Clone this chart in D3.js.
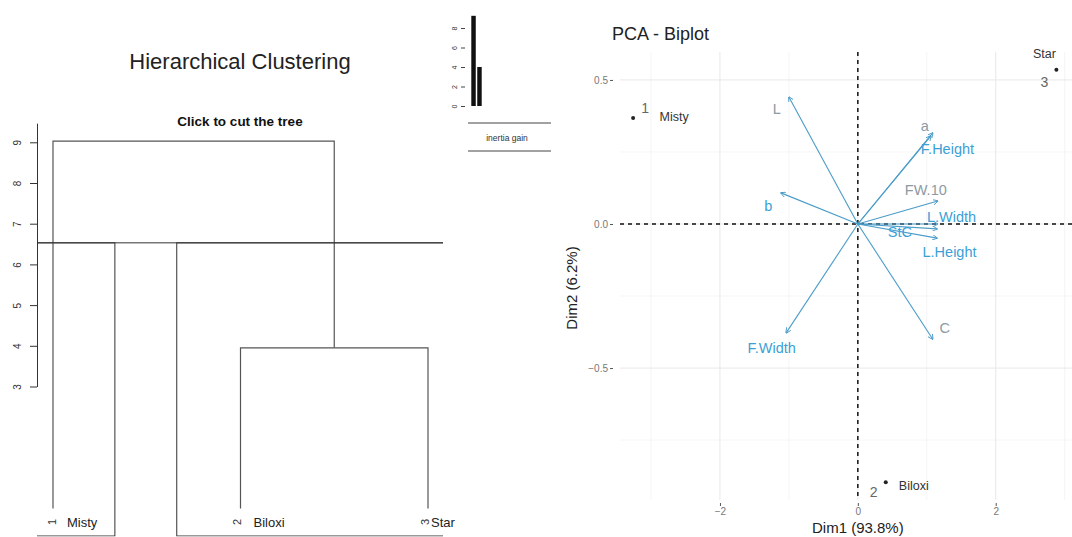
<!DOCTYPE html>
<html><head><meta charset="utf-8">
<script src="https://cdn.jsdelivr.net/npm/d3@7"></script>
<style>body{margin:0;background:#fff}svg{display:block;font-family:"Liberation Sans",Arial,sans-serif}</style>
</head><body><svg id="c" width="1072" height="537"></svg>
<script>
// ---------- data ----------
const leafNames = ["Misty", "Biloxi", "Star"];
const leafIds = ["1", "2", "3"];
const leafHeight = 0;
const mergeLeft = [2, 1];      // leaf index, or negative = earlier merge node
const mergeRight = [3, -1];
const mergeHeights = [3.95, 9.03];
const cutHeight = 6.53;
const clusterFrom = [0.66, 1.66];
const clusterTo = [1.33, 3.33];
const treeTicks = [3, 4, 5, 6, 7, 8, 9];

const gainValues = [9.25, 4.0];
const gainTicks = [0, 2, 4, 6, 8];

const indNames = ["Misty", "Biloxi", "Star"];
const indIds = ["1", "2", "3"];
const indX = [-3.26, 0.405, 2.88];
const indY = [0.368, -0.896, 0.535];

const varNames = ["L", "a", "F.Height", "FW.10", "L.Width", "StC", "L.Height", "b", "C", "F.Width"];
const varX = [-1.0, 1.087, 1.06, 1.16, 1.16, 1.15, 1.15, -1.116, 1.087, -1.04];
const varY = [0.441, 0.316, 0.306, 0.08, 0.0, -0.017, -0.049, 0.108, -0.40, -0.378];
const varLabelX = [-1.174, 0.971, 1.30, 0.986, 1.36, 0.61, 1.33, -1.30, 1.26, -1.25];
const varLabelY = [0.40, 0.342, 0.262, 0.12, 0.024, -0.028, -0.097, 0.064, -0.361, -0.431];
const varGrey = ["L", "a", "FW.10", "C"];

const xTicks = [-2, 0, 2];
const xMinor = [-3, -1, 1, 3];
const yTicks = [-0.5, 0, 0.5];
const yMinor = [-0.75, -0.25, 0.25];

// ---------- drawing ----------
const svg = d3.select("#c");

// ===== Left: dendrogram =====
const L = svg.append("g");
const ty = d3.scaleLinear().domain([0, 9]).range([508.6, 142.3]);
const tx = d3.scaleLinear().domain([1, 3]).range([53, 428]);
L.append("text").attr("x", 240).attr("y", 69).attr("text-anchor", "middle")
  .attr("font-size", 22).attr("fill", "#222").text("Hierarchical Clustering");
L.append("text").attr("x", 240).attr("y", 126).attr("text-anchor", "middle")
  .attr("font-size", 13.5).attr("font-weight", "bold").attr("fill", "#111").text("Click to cut the tree");

// axis
const axScale = d3.scaleLinear().domain([3, 9.47]).range([ty(3), ty(9.47)]);
const ax = L.append("g").attr("transform", "translate(37,0)")
  .call(d3.axisLeft(axScale).tickValues(treeTicks).tickSize(7).tickSizeOuter(0).tickFormat(d3.format("d")));
ax.select(".domain").attr("stroke", "#333");
ax.selectAll(".tick line").attr("stroke", "#333");
ax.selectAll(".tick text").attr("font-size", 10).attr("fill", "#333")
  .attr("transform", "rotate(-90)").attr("x", 0).attr("y", -20).attr("dy", "0.35em").attr("text-anchor", "middle");

// tree
const nodePos = [];
function posOf(ref) {
  if (ref > 0) return { x: tx(ref), h: leafHeight };
  return nodePos[-ref - 1];
}
mergeHeights.forEach((h, i) => {
  const a = posOf(mergeLeft[i]), b = posOf(mergeRight[i]);
  const path = d3.path();
  path.moveTo(a.x, ty(a.h)); path.lineTo(a.x, ty(h)); path.lineTo(b.x, ty(h)); path.lineTo(b.x, ty(b.h));
  L.append("path").attr("d", path.toString()).attr("fill", "none").attr("stroke", "#555").attr("stroke-width", 1.2);
  nodePos.push({ x: (a.x + b.x) / 2, h: h });
});

// cut line + cluster rectangles (clipped to plot region)
svg.append("clipPath").attr("id", "treeclip").append("rect").attr("x", 37).attr("y", 0).attr("width", 406).attr("height", 536.5);
const cg = L.append("g").attr("clip-path", "url(#treeclip)");
const pxPerIdx = tx(2) - tx(1);
clusterFrom.forEach((f, i) => {
  const x0 = tx(1) + (f - 1) * pxPerIdx, x1 = tx(1) + (clusterTo[i] - 1) * pxPerIdx;
  cg.append("rect").attr("x", x0).attr("y", ty(cutHeight)).attr("width", x1 - x0).attr("height", 536 - ty(cutHeight))
    .attr("fill", "none").attr("stroke", "#333").attr("stroke-width", 1);
});
cg.append("line").attr("x1", 0).attr("x2", 1072).attr("y1", ty(cutHeight)).attr("y2", ty(cutHeight))
  .attr("stroke", "#333").attr("stroke-width", 1);

// leaf labels
const leafNumOff = [-1, -3, -3];
const leafNameOff = [14, 13, 3];
leafNames.forEach((n, i) => {
  const x = tx(i + 1);
  L.append("text").attr("transform", `translate(${x + leafNumOff[i]},522) rotate(-90)`).attr("text-anchor", "middle")
    .attr("dy", "0.35em").attr("font-size", 11).attr("fill", "#333").text(leafIds[i]);
  L.append("text").attr("x", x + leafNameOff[i]).attr("y", 527).attr("font-size", 13).attr("fill", "#222").text(n);
});

// inset: inertia gain
const gy = d3.scaleLinear().domain([0, 8]).range([106, 28]);
const gx = d3.scaleBand().domain(d3.range(gainValues.length)).range([471, 482]).paddingInner(0.25).paddingOuter(0.05);
L.selectAll(".gbar").data(gainValues).enter().append("rect")
  .attr("x", (d, i) => gx(i)).attr("width", gx.bandwidth())
  .attr("y", d => gy(d)).attr("height", d => gy(0) - gy(d)).attr("fill", "#111");
const gax = L.append("g").attr("transform", "translate(465,0)")
  .call(d3.axisLeft(gy).tickValues(gainTicks).tickSize(4).tickSizeOuter(0));
gax.select(".domain").remove();
gax.selectAll(".tick line").attr("stroke", "#444");
gax.selectAll(".tick text").attr("font-size", 7).attr("fill", "#333").attr("transform", "rotate(-90)")
  .attr("x", 0).attr("y", -10).attr("dy", "0.35em").attr("text-anchor", "middle");
L.append("line").attr("x1", 468).attr("x2", 551).attr("y1", 123).attr("y2", 123).attr("stroke", "#444");
L.append("line").attr("x1", 468).attr("x2", 551).attr("y1", 151).attr("y2", 151).attr("stroke", "#444");
L.append("text").attr("x", 507).attr("y", 141).attr("text-anchor", "middle").attr("font-size", 8.5).attr("fill", "#333").text("inertia gain");

// ===== Right: PCA biplot =====
const R = svg.append("g");
const px = d3.scaleLinear().domain([-3.45, 3.15]).range([620, 1075]);
const py = d3.scaleLinear().domain([-0.958, 0.597]).range([500, 52]);
R.append("text").attr("x", 612).attr("y", 40).attr("font-size", 18).attr("fill", "#222").text("PCA - Biplot");

R.selectAll(".gxm").data(xMinor).enter().append("line").attr("x1", d => px(d)).attr("x2", d => px(d))
  .attr("y1", 52).attr("y2", 500).attr("stroke", "#f3f3f3").attr("stroke-width", 0.8);
R.selectAll(".gym").data(yMinor).enter().append("line").attr("y1", d => py(d)).attr("y2", d => py(d))
  .attr("x1", 620).attr("x2", 1075).attr("stroke", "#f3f3f3").attr("stroke-width", 0.8);
R.selectAll(".gx").data(xTicks).enter().append("line").attr("x1", d => px(d)).attr("x2", d => px(d))
  .attr("y1", 52).attr("y2", 500).attr("stroke", "#e8e8e8").attr("stroke-width", 1);
R.selectAll(".gy").data(yTicks).enter().append("line").attr("y1", d => py(d)).attr("y2", d => py(d))
  .attr("x1", 620).attr("x2", 1075).attr("stroke", "#e8e8e8").attr("stroke-width", 1);

// axes
const xa = R.append("g").attr("transform", "translate(0,503)")
  .call(d3.axisBottom(px).tickValues(xTicks).tickSize(3).tickFormat(d3.format("d")));
xa.select(".domain").remove();
xa.selectAll(".tick line").attr("stroke", "#555");
xa.selectAll(".tick text").attr("font-size", 10).attr("fill", "#777").attr("y", 5);
const ya = R.append("g").attr("transform", "translate(613,0)")
  .call(d3.axisLeft(py).tickValues(yTicks).tickSize(3).tickFormat(d3.format(".1f")));
ya.select(".domain").remove();
ya.selectAll(".tick line").attr("stroke", "#555");
ya.selectAll(".tick text").attr("font-size", 10).attr("fill", "#777").attr("x", -5);
R.append("text").attr("x", px(0)).attr("y", 533).attr("text-anchor", "middle").attr("font-size", 15).attr("fill", "#222").text("Dim1 (93.8%)");
R.append("text").attr("transform", `translate(577,${(52 + 500) / 2 + 12}) rotate(-90)`).attr("text-anchor", "middle")
  .attr("font-size", 15).attr("fill", "#222").text("Dim2 (6.2%)");

// reference dashed lines
R.append("line").attr("x1", px(0)).attr("x2", px(0)).attr("y1", 52).attr("y2", 500)
  .attr("stroke", "#111").attr("stroke-width", 1.5).attr("stroke-dasharray", "4,4");
R.append("line").attr("x1", 620).attr("x2", 1075).attr("y1", py(0)).attr("y2", py(0))
  .attr("stroke", "#111").attr("stroke-width", 1.5).attr("stroke-dasharray", "4,4");

// arrows
const blue = "#3b9fd6";
svg.append("defs").append("marker").attr("id", "ah").attr("viewBox", "0 0 10 10").attr("refX", 9).attr("refY", 5)
  .attr("markerWidth", 5).attr("markerHeight", 5).attr("orient", "auto")
  .append("path").attr("d", "M0,0 L10,5 L0,10").attr("fill", "none").attr("stroke", "#4a9cc8").attr("stroke-width", 1.6);
varNames.forEach((n, i) => {
  R.append("line").attr("x1", px(0)).attr("y1", py(0)).attr("x2", px(varX[i])).attr("y2", py(varY[i]))
    .attr("stroke", "#4a9cc8").attr("stroke-width", 1.1).attr("marker-end", "url(#ah)");
});
varNames.forEach((n, i) => {
  R.append("text").attr("x", px(varLabelX[i])).attr("y", py(varLabelY[i])).attr("dy", "0.35em")
    .attr("text-anchor", "middle").attr("font-size", 14.5)
    .attr("fill", varGrey.includes(n) ? "#8d9aa4" : blue).text(n);
});

// individuals
indNames.forEach((n, i) => {
  R.append("circle").attr("cx", px(indX[i])).attr("cy", py(indY[i])).attr("r", 2).attr("fill", "#222");
});
const idOff = [[12, -10], [-12, 10], [-12, 12]];
const nameOff = [[41, -1], [28, 3], [-12, -16]];
indNames.forEach((n, i) => {
  const x = px(indX[i]), y = py(indY[i]);
  R.append("text").attr("x", x + idOff[i][0]).attr("y", y + idOff[i][1]).attr("dy", "0.35em").attr("text-anchor", "middle")
    .attr("font-size", 14).attr("fill", "#666").text(indIds[i]);
  R.append("text").attr("x", x + nameOff[i][0]).attr("y", y + nameOff[i][1]).attr("dy", "0.35em").attr("text-anchor", "middle")
    .attr("font-size", 12.5).attr("fill", "#333").text(n);
});
</script></body></html>
